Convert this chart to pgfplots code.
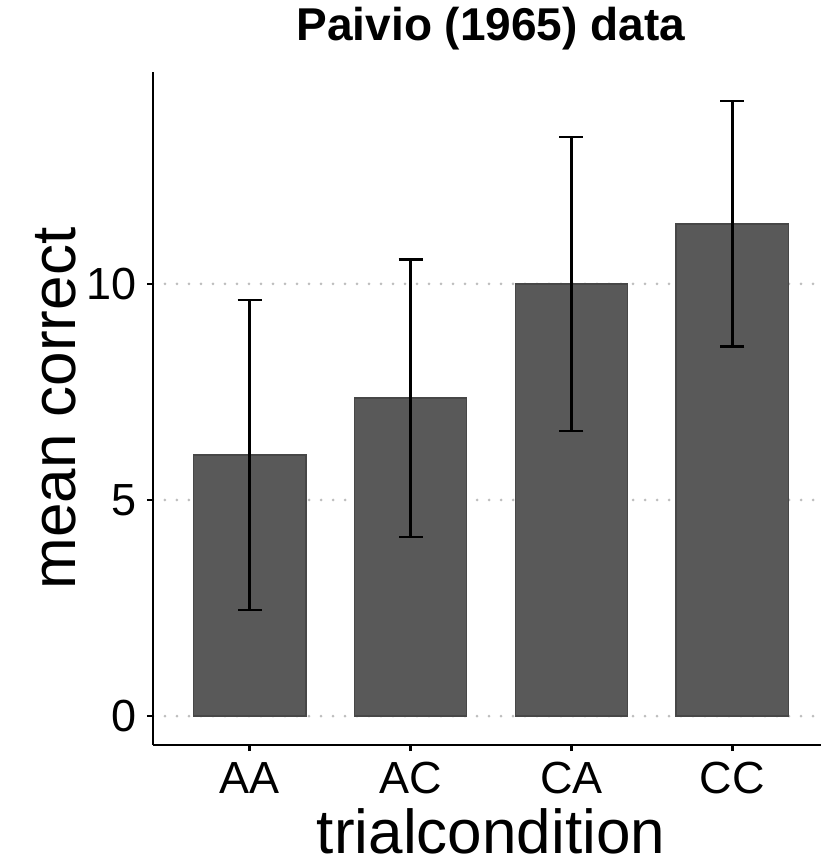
\documentclass[border=0pt]{standalone}
\usepackage{fontspec}
\setmainfont{Liberation Sans}
\usepackage{pgfplots}
\pgfplotsset{compat=1.18}
\definecolor{barfill}{HTML}{595959}
\definecolor{barline}{HTML}{474747}
\definecolor{gridc}{HTML}{BEBEBE}

\begin{document}
\begin{tikzpicture}
% page frame: axis box sits at (0,0)-(676pt,673pt), picture cut at 820x862
\useasboundingbox (-153pt,-117pt) rectangle (667pt,745pt);
\begin{axis}[
  scale only axis,
  width=676pt, height=673pt,
  xmin=-0.6, xmax=3.6,
  ymin=-0.671, ymax=14.907,
  axis lines=left,
  axis line style={line width=2.4pt, -},
  xtick=data, xticklabels={AA,AC,CA,CC},
  ytick={0,5,10},
  tick align=outside,
  major tick length=6pt,
  tick style={line width=2.4pt, black},
  /pgf/number format/assume math mode=true,
  ticklabel style={font=\fontsize{45}{45}\selectfont, inner sep=0pt},
  yticklabel style={xshift=-10pt},
  xticklabel style={yshift=-11pt},
  ymajorgrids,
  grid style={gridc, line width=3pt, dash pattern=on 0pt off 12pt, line cap=round},
  title={Paivio (1965) data},
  title style={font=\fontsize{46}{46}\selectfont\bfseries, at={(axis description cs:0.5,1.0386)}, anchor=base},
  xlabel={trialcondition},
  xlabel style={font=\fontsize{62}{62}\selectfont, at={(axis description cs:0.5,-0.1605)}, anchor=base},
  ylabel={mean correct},
  ylabel style={font=\fontsize{62}{62}\selectfont, at={(axis description cs:-0.114,0.5)}, anchor=base},
  ybar, bar width=0.7,
]
\addplot[fill=barfill, draw=barline, line width=1.2pt,
  error bars/.cd, y dir=both, y explicit,
  error bar style={line width=2.4pt, black},
  error mark options={rotate=90, mark size=12pt, line width=2.4pt, black}]
  coordinates {
  (0,6.04)  +- (0,3.59)
  (1,7.36)  +- (0,3.21)
  (2,10.00) +- (0,3.40)
  (3,11.39) +- (0,2.84)
};
\end{axis}
\end{tikzpicture}
\end{document}
